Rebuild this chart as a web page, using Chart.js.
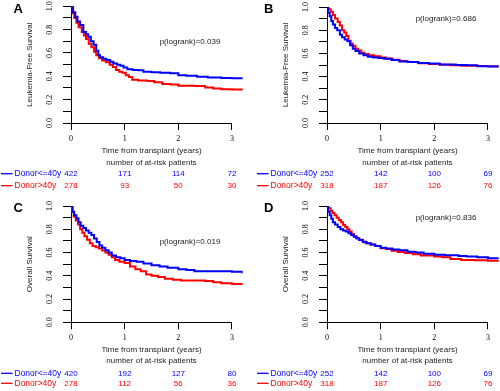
<!DOCTYPE html>
<html>
<head>
<meta charset="utf-8">
<script src="https://cdn.jsdelivr.net/npm/chart.js@4"></script>
<style>
  html, body { margin: 0; padding: 0; background: #fff; overflow: hidden; width: 500px; height: 391px; }
  canvas { position: absolute; }
</style>
</head>
<body>
<canvas id="cA" width="250" height="199" style="left:0;top:0"></canvas>
<canvas id="cB" width="250" height="199" style="left:256px;top:0"></canvas>
<canvas id="cC" width="250" height="192" style="left:0;top:199px"></canvas>
<canvas id="cD" width="250" height="192" style="left:256px;top:199px"></canvas>
<script>
// axes
const xTicks = [0, 1, 2, 3];
const yTicks = [0, 0.1, 0.2, 0.3, 0.4, 0.5, 0.6, 0.7, 0.8, 0.9, 1.0];
const yLabels = [0, 0.2, 0.4, 0.6, 0.8, 1.0];
const groups = ['Donor<=40y', 'Donor>40y'];
const colors = ['#0000ff', '#ff0000'];

// A - leukemia-free survival
const timeA1 = [0, 0.04, 0.08, 0.12, 0.17, 0.23, 0.28, 0.32, 0.37, 0.42, 0.47, 0.51, 0.54, 0.6, 0.66, 0.73, 0.79, 0.86, 0.92, 0.98, 1.05, 1.15, 1.25, 1.35, 1.5, 1.66, 1.85, 2.0, 2.15, 2.35, 2.55, 2.8, 3.0, 3.2];
const survA1 = [1, 0.95, 0.91, 0.87, 0.84, 0.78, 0.76, 0.74, 0.70, 0.67, 0.62, 0.58, 0.563, 0.55, 0.54, 0.525, 0.51, 0.50, 0.49, 0.475, 0.46, 0.455, 0.452, 0.44, 0.435, 0.43, 0.426, 0.41, 0.405, 0.397, 0.39, 0.386, 0.383, 0.378];
const timeA2 = [0, 0.03, 0.06, 0.1, 0.14, 0.2, 0.24, 0.28, 0.33, 0.38, 0.43, 0.47, 0.52, 0.58, 0.65, 0.72, 0.78, 0.84, 0.9, 0.96, 1.02, 1.08, 1.14, 1.25, 1.42, 1.55, 1.7, 1.85, 2.0, 2.3, 2.5, 2.65, 2.8, 3.0, 3.2];
const survA2 = [1, 0.94, 0.9, 0.86, 0.82, 0.78, 0.75, 0.72, 0.68, 0.65, 0.61, 0.58, 0.555, 0.535, 0.52, 0.5, 0.48, 0.455, 0.44, 0.43, 0.41, 0.395, 0.37, 0.365, 0.36, 0.35, 0.335, 0.33, 0.32, 0.318, 0.305, 0.295, 0.29, 0.286, 0.283];
const riskA1 = [422, 171, 114, 72];
const riskA2 = [278, 93, 50, 30];

// B - leukemia-free survival
const timeB1 = [0, 0.02, 0.05, 0.08, 0.11, 0.15, 0.19, 0.24, 0.28, 0.33, 0.38, 0.43, 0.48, 0.53, 0.6, 0.68, 0.76, 0.86, 0.96, 1.06, 1.2, 1.35, 1.5, 1.7, 1.9, 2.1, 2.4, 2.6, 2.8, 3.0, 3.2];
const survB1 = [1, 0.95, 0.92, 0.88, 0.85, 0.82, 0.8, 0.76, 0.74, 0.72, 0.705, 0.67, 0.64, 0.62, 0.6, 0.585, 0.572, 0.565, 0.56, 0.553, 0.543, 0.53, 0.525, 0.518, 0.512, 0.505, 0.5, 0.497, 0.49, 0.487, 0.48];
const timeB2 = [0, 0.03, 0.07, 0.11, 0.15, 0.2, 0.24, 0.28, 0.32, 0.36, 0.4, 0.44, 0.48, 0.53, 0.58, 0.64, 0.7, 0.78, 0.88, 1.0, 1.1, 1.22, 1.35, 1.5, 1.7, 1.9, 2.1, 2.3, 2.5, 2.8, 3.0, 3.2];
const survB2 = [1, 0.98, 0.96, 0.93, 0.9, 0.87, 0.84, 0.8, 0.78, 0.75, 0.71, 0.685, 0.665, 0.64, 0.625, 0.605, 0.595, 0.583, 0.575, 0.565, 0.555, 0.545, 0.535, 0.525, 0.515, 0.508, 0.503, 0.498, 0.494, 0.492, 0.49, 0.486];
const riskB1 = [252, 142, 100, 69];
const riskB2 = [318, 187, 126, 76];

// C - overall survival
const timeC1 = [0, 0.03, 0.06, 0.1, 0.14, 0.18, 0.23, 0.28, 0.33, 0.38, 0.43, 0.48, 0.53, 0.58, 0.64, 0.7, 0.76, 0.84, 0.92, 1.0, 1.1, 1.22, 1.35, 1.5, 1.65, 1.8, 2.0, 2.15, 2.3, 2.6, 2.8, 3.0, 3.2];
const survC1 = [1, 0.95, 0.92, 0.894, 0.86, 0.83, 0.81, 0.79, 0.77, 0.75, 0.72, 0.69, 0.66, 0.64, 0.62, 0.6, 0.575, 0.56, 0.55, 0.535, 0.528, 0.52, 0.505, 0.49, 0.48, 0.47, 0.456, 0.45, 0.44, 0.44, 0.438, 0.435, 0.42];
const timeC2 = [0, 0.02, 0.05, 0.09, 0.13, 0.17, 0.21, 0.25, 0.3, 0.35, 0.4, 0.46, 0.52, 0.58, 0.64, 0.7, 0.76, 0.82, 0.9, 1.0, 1.1, 1.2, 1.3, 1.4, 1.5, 1.62, 1.75, 1.9, 2.05, 2.5, 2.65, 2.8, 3.0, 3.2];
const survC2 = [1, 0.95, 0.91, 0.875, 0.84, 0.8, 0.77, 0.74, 0.71, 0.68, 0.655, 0.645, 0.635, 0.618, 0.6, 0.58, 0.56, 0.535, 0.52, 0.51, 0.48, 0.456, 0.44, 0.41, 0.4, 0.39, 0.375, 0.365, 0.36, 0.355, 0.345, 0.335, 0.33, 0.32];
const riskC1 = [420, 192, 127, 80];
const riskC2 = [278, 112, 56, 36];

// D - overall survival
const timeD1 = [0, 0.02, 0.05, 0.08, 0.11, 0.15, 0.2, 0.25, 0.3, 0.35, 0.4, 0.45, 0.5, 0.55, 0.6, 0.67, 0.74, 0.82, 0.9, 1.0, 1.1, 1.22, 1.35, 1.5, 1.65, 1.8, 2.0, 2.2, 2.45, 2.6, 2.8, 3.0, 3.2];
const survD1 = [1, 0.95, 0.92, 0.89, 0.86, 0.84, 0.82, 0.8, 0.79, 0.78, 0.765, 0.75, 0.735, 0.72, 0.708, 0.69, 0.68, 0.67, 0.655, 0.64, 0.635, 0.627, 0.62, 0.607, 0.6, 0.59, 0.58, 0.576, 0.57, 0.565, 0.56, 0.55, 0.545];
const timeD2 = [0, 0.03, 0.07, 0.1, 0.14, 0.18, 0.22, 0.26, 0.3, 0.34, 0.38, 0.42, 0.46, 0.5, 0.55, 0.6, 0.66, 0.72, 0.8, 0.9, 1.0, 1.1, 1.2, 1.32, 1.45, 1.6, 1.75, 2.0, 2.15, 2.3, 2.5, 2.75, 3.0, 3.2];
const survD2 = [1, 0.98, 0.96, 0.94, 0.92, 0.9, 0.88, 0.86, 0.836, 0.82, 0.8, 0.78, 0.76, 0.74, 0.725, 0.71, 0.695, 0.68, 0.67, 0.655, 0.636, 0.63, 0.616, 0.605, 0.595, 0.585, 0.575, 0.565, 0.56, 0.545, 0.536, 0.533, 0.53, 0.52];
const riskD1 = [252, 142, 100, 69];
const riskD2 = [318, 187, 126, 76];

const sans = "'Liberation Sans', Arial, sans-serif";
const serif = "'Liberation Serif', 'Times New Roman', serif";
const rowsTop = { tick: 139.3, title: 151, nrisk: 162.7, r: [173.7, 185.7] };
const rowsBottom = { tick: 139.3, title: 150.3, nrisk: 161.7, r: [174.3, 184.3] };

function kmPoints(times, surv) {
  return times.map((t, i) => ({ x: t, y: surv[i] }));
}

function makePanel(p) {
  const canvas = document.getElementById(p.id);
  const H = canvas.height;

  // text, table and axis extras drawn on top of the chart
  const extras = {
    id: 'extras',
    afterDraw(chart) {
      const ctx = chart.ctx, xs = chart.scales.x, ys = chart.scales.y, area = chart.chartArea;
      ctx.save();
      ctx.strokeStyle = '#000';
      ctx.lineWidth = 1;
      const yb = Math.round(area.bottom) + 0.5;
      ctx.beginPath();
      ctx.moveTo(xs.getPixelForValue(xTicks[0]), yb);
      ctx.lineTo(xs.getPixelForValue(xTicks[xTicks.length - 1]), yb);
      ctx.stroke();

      ctx.fillStyle = '#000';
      ctx.font = '8px ' + serif;
      ctx.textAlign = 'center';
      ctx.textBaseline = 'middle';
      yLabels.forEach(v => {
        ctx.save();
        ctx.translate(50, ys.getPixelForValue(v));
        ctx.rotate(-Math.PI / 2);
        ctx.fillText(v.toFixed(1), 0, 0);
        ctx.restore();
      });
      xTicks.forEach(v => ctx.fillText(String(v), xs.getPixelForValue(v), p.rows.tick));

      ctx.fillStyle = '#222';
      ctx.font = '8px ' + sans;
      ctx.save();
      ctx.translate(29.5, (area.top + area.bottom) / 2);
      ctx.rotate(-Math.PI / 2);
      ctx.fillText(p.yTitle, 0, 0);
      ctx.restore();
      const cx = (xs.getPixelForValue(xTicks[0]) + xs.getPixelForValue(xTicks[xTicks.length - 1])) / 2;
      ctx.fillText('Time from transplant (years)', cx, p.rows.title);
      ctx.fillText('number of at-risk patients', cx, p.rows.nrisk);
      ctx.fillText('p(logrank)=' + p.pval, 190, p.pY);

      // at-risk table
      p.risk.forEach((row, g) => {
        const y = p.rows.r[g];
        ctx.strokeStyle = colors[g];
        ctx.lineWidth = 1.3;
        ctx.beginPath();
        ctx.moveTo(1, y);
        ctx.lineTo(12.5, y);
        ctx.stroke();
        ctx.fillStyle = colors[g];
        ctx.textAlign = 'left';
        ctx.font = '8.5px ' + sans;
        ctx.fillText(groups[g], 14.5, y);
        ctx.textAlign = 'center';
        ctx.font = '8px ' + sans;
        row.forEach((n, k) => ctx.fillText(String(n), xs.getPixelForValue(xTicks[k]), y));
      });

      ctx.fillStyle = '#000';
      ctx.font = 'bold 13px ' + sans;
      ctx.fillText(p.letter, p.letterX, p.letterY);
      ctx.restore();
    }
  };

  return new Chart(canvas.getContext('2d'), {
    type: 'line',
    data: {
      datasets: p.curves.map((c, g) => ({
        label: groups[g],
        data: kmPoints(c[0], c[1]),
        borderColor: colors[g],
        borderWidth: 2,
        pointRadius: 0,
        stepped: true,
        fill: false
      }))
    },
    options: {
      responsive: false,
      animation: false,
      devicePixelRatio: 1,
      layout: { padding: { top: p.top, right: 7.3, left: 0, bottom: 0 } },
      plugins: { legend: { display: false }, tooltip: { enabled: false } },
      scales: {
        x: {
          type: 'linear', min: 0, max: 3.2,
          afterBuildTicks: s => { s.ticks = xTicks.map(v => ({ value: v })); },
          afterFit: s => { s.height = H - p.bottom; },
          grid: { drawOnChartArea: false, drawTicks: true, tickLength: 7, color: '#000', lineWidth: 1 },
          border: { display: false },
          ticks: { display: false }
        },
        y: {
          min: 0, max: 1,
          afterBuildTicks: s => { s.ticks = yTicks.map(v => ({ value: v })); },
          afterFit: s => { s.width = 71; },
          grid: { drawOnChartArea: false, drawTicks: true, tickLength: 8, color: '#000', lineWidth: 1 },
          border: { display: true, color: '#000', width: 1 },
          ticks: { display: false }
        }
      }
    },
    plugins: [extras]
  });
}

makePanel({ id: 'cA', letter: 'A', letterX: 18.3, letterY: 9.5, yTitle: 'Leukemia-Free Survival', pval: '0.039', pY: 42,
  top: 6.3, bottom: 123, rows: rowsTop, curves: [[timeA1, survA1], [timeA2, survA2]], risk: [riskA1, riskA2] });
makePanel({ id: 'cB', letter: 'B', letterX: 12.7, letterY: 9.5, yTitle: 'Leukemia-Free Survival', pval: '0.686', pY: 19,
  top: 7, bottom: 123, rows: rowsTop, curves: [[timeB1, survB1], [timeB2, survB2]], risk: [riskB1, riskB2] });
makePanel({ id: 'cC', letter: 'C', letterX: 18.3, letterY: 9, yTitle: 'Overall Survival', pval: '0.019', pY: 42.7,
  top: 7, bottom: 123.3, rows: rowsBottom, curves: [[timeC1, survC1], [timeC2, survC2]], risk: [riskC1, riskC2] });
makePanel({ id: 'cD', letter: 'D', letterX: 12.7, letterY: 9, yTitle: 'Overall Survival', pval: '0.836', pY: 19,
  top: 7, bottom: 123.3, rows: rowsBottom, curves: [[timeD1, survD1], [timeD2, survD2]], risk: [riskD1, riskD2] });
</script>
</body>
</html>
